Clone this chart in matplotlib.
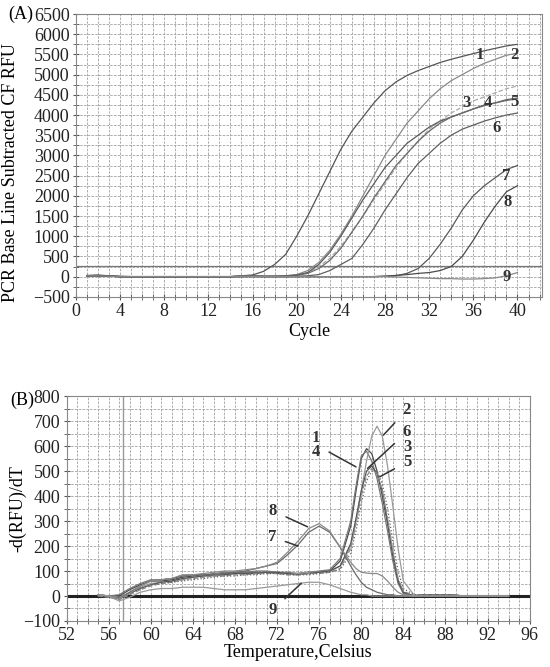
import numpy as np
import matplotlib
matplotlib.use("Agg")
import matplotlib.pyplot as plt
from matplotlib.ticker import MultipleLocator

plt.rcParams['font.family'] = ['Liberation Serif', 'DejaVu Serif']

# ---------------- (A) amplification curves ----------------
cycles = list(range(1, 41))
amp = {
    '1': [30, 40, 20, 10, 0, 0, 0, 0, 0, 0, 0, 0, 0, 0, 20, 40, 130, 300, 550, 1000,
          1500, 2050, 2600, 3150, 3600, 3950, 4300, 4600, 4820, 4980, 5100, 5200, 5300, 5380, 5450,
          5520, 5590, 5650, 5710, 5750],
    '2': [20, 30, 10, 0, 0, 0, 0, 0, 0, 0, 0, 0, 0, 0, 10, 20, 10, 10, 20, 50,
          150, 350, 650, 1050, 1500, 2000, 2500, 3000, 3400, 3800, 4100, 4400, 4650, 4850, 5000,
          5150, 5280, 5380, 5480, 5530],
    '3': [20, 20, 10, 0, 0, 0, 0, 0, 0, 0, 0, 0, 0, 0, 10, 10, 10, 10, 10, 30,
          100, 250, 450, 750, 1100, 1500, 1900, 2300, 2700, 3050, 3350, 3650, 3850, 4050, 4200,
          4350, 4450, 4550, 4650, 4720],
    '4': [20, 30, 10, 0, 0, 0, 0, 0, 0, 0, 0, 0, 0, 0, 10, 10, 10, 10, 20, 40,
          100, 300, 600, 1000, 1450, 1900, 2300, 2700, 3000, 3300, 3500, 3700, 3850, 3950, 4050,
          4150, 4250, 4300, 4380, 4420],
    '5': [20, 20, 10, 0, 0, 0, 0, 0, 0, 0, 0, 0, 0, 0, 10, 10, 10, 10, 10, 30,
          80, 200, 400, 700, 1100, 1500, 1950, 2350, 2750, 3050, 3350, 3600, 3800, 3950, 4050,
          4150, 4230, 4300, 4360, 4400],
    '6': [20, 20, 10, 0, 0, 0, 0, 0, 0, 0, 0, 0, 0, 0, 0, 10, 0, 0, 0, 10,
          20, 50, 150, 300, 450, 800, 1200, 1650, 2050, 2450, 2800, 3050, 3300, 3500, 3650,
          3750, 3850, 3930, 4000, 4050],
    '7': [20, 20, 10, 0, 0, 0, 0, 0, 0, 0, 0, 0, 0, 0, 0, 0, 0, 0, 0, 0,
          0, 0, 0, 0, 0, 0, 0, 10, 20, 80, 200, 450, 800, 1200, 1650,
          2000, 2250, 2450, 2650, 2750],
    '8': [20, 20, 10, 0, 0, 0, 0, 0, 0, 0, 0, 0, 0, 0, 0, 0, 0, 0, 0, 0,
          0, 0, 0, 0, 0, 0, 0, 10, 30, 50, 80, 100, 150, 250, 500,
          900, 1350, 1750, 2100, 2250],
    '9': [20, 20, 10, 0, 0, 0, 0, 0, 0, 0, 0, 0, 0, 0, 0, 0, 0, 0, 0, 0,
          0, 0, 0, 0, 0, 0, 0, 0, -10, -20, -30, -40, -50, -50, -60,
          -60, -50, -30, 20, 100],
}
amp_labels = {'1': (36.6, 5480), '2': (39.7, 5480), '3': (35.4, 4290), '4': (37.3, 4300),
              '5': (39.7, 4330), '6': (38.1, 3670), '7': (39.0, 2500), '8': (39.1, 1850),
              '9': (39.0, -10)}
threshold = 270

# ---------------- (B) melt curves ----------------
temps = [55, 56, 57, 58, 59, 60, 61, 62, 63, 64, 65, 66, 67, 68, 69, 70, 71, 72, 73, 74,
         75, 76, 77, 78, 79, 79.5, 80, 80.5, 81, 81.5, 82, 82.5, 83, 83.5, 84, 85, 86, 88,
         90, 92, 94]
melt = {
    '1': [0, -5, 0, 25, 45, 60, 60, 65, 75, 80, 85, 85, 90, 90, 95, 95, 95, 90, 90, 90,
          95, 95, 100, 140, 280, 420, 550, 590, 570, 500, 400, 290, 160, 60, 15, 0, 5, 5, 0, 0, 0],
    '4': [5, 0, 5, 30, 50, 65, 65, 70, 80, 85, 85, 90, 95, 95, 95, 100, 100, 95, 95, 90,
          95, 100, 105, 150, 300, 440, 560, 580, 540, 470, 370, 260, 140, 50, 10, 0, 5, 5, 0, 0, 0],
    '2': [5, 0, -5, 15, 35, 50, 55, 60, 65, 75, 80, 80, 85, 90, 90, 90, 95, 95, 90, 90,
          95, 95, 100, 120, 200, 300, 420, 540, 640, 680, 640, 520, 360, 190, 60, 5, 5, 5, 0, 0, 0],
    '6': [0, -5, -10, 10, 30, 45, 55, 60, 70, 75, 80, 85, 85, 90, 90, 90, 95, 95, 90, 85,
          90, 95, 100, 120, 210, 310, 420, 500, 520, 490, 420, 300, 170, 60, 15, 0, 5, 5, 0, 0, 0],
    '3': [0, -5, -15, 5, 25, 40, 50, 55, 65, 70, 75, 80, 80, 85, 85, 90, 90, 90, 85, 85,
          90, 90, 95, 110, 190, 290, 400, 480, 510, 490, 420, 310, 180, 70, 20, 0, 5, 5, 0, 0, 0],
    '5': [5, 0, -10, 10, 30, 45, 50, 55, 60, 65, 70, 75, 80, 80, 85, 85, 90, 90, 85, 85,
          85, 90, 95, 105, 170, 260, 370, 460, 500, 500, 450, 350, 220, 100, 30, 5, 5, 5, 0, 0, 0],
    '7': [5, 0, -10, 15, 40, 60, 65, 70, 80, 85, 85, 85, 90, 95, 100, 110, 120, 130, 165, 205,
          255, 280, 255, 195, 120, 85, 55, 35, 25, 15, 10, 5, 5, 0, 0, 0, 0, 0, 0, 0, 0],
    '8': [5, 0, -10, 10, 40, 60, 65, 70, 85, 85, 90, 95, 100, 100, 105, 110, 120, 135, 175, 220,
          270, 290, 260, 195, 135, 110, 95, 92, 90, 90, 80, 60, 35, 15, 5, 0, 0, 0, 0, 0, 0],
    '9': [5, 0, -20, -5, 15, 25, 30, 30, 35, 35, 35, 30, 25, 25, 25, 30, 35, 40, 45, 50,
          55, 55, 45, 30, 15, 10, 5, 5, 0, 0, 0, 0, 0, 0, 0, 0, 0, 0, 0, 0, 0],
}
melt_styles = {
    '1': ('#4a4a4a', '-'), '4': ('#777777', '-'), '2': ('#9a9a9a', '-'),
    '6': ('#555555', '-'), '3': ('#888888', '--'), '5': ('#666666', ':'),
    '7': ('#6a6a6a', '-'), '8': ('#8a8a8a', '-'), '9': ('#999999', '-'),
}
amp_styles = {
    '1': ('#555555', '-'), '2': ('#8a8a8a', '-'), '3': ('#aaaaaa', '--'),
    '4': ('#5a5a5a', '-'), '5': ('#6a6a6a', '-'), '6': ('#606060', '-'),
    '7': ('#5a5a5a', '-'), '8': ('#4a4a4a', '-'), '9': ('#888888', '-'),
}


def style_axes(ax, xmaj, xmin, ymaj, ymin):
    ax.xaxis.set_major_locator(MultipleLocator(xmaj))
    ax.xaxis.set_minor_locator(MultipleLocator(xmin))
    ax.yaxis.set_major_locator(MultipleLocator(ymaj))
    ax.yaxis.set_minor_locator(MultipleLocator(ymin))
    ax.grid(which='both', color='#a0a0a0', linestyle=(0, (3, 1.5)), linewidth=0.6)
    ax.tick_params(which='both', direction='inout', color='#555555')
    ax.tick_params(which='major', length=5, labelsize=13, pad=2, labelcolor='#222222')
    ax.tick_params(which='minor', length=4)
    for s in ax.spines.values():
        s.set_color('#888888')
        s.set_linewidth(0.8)
    ax.set_axisbelow(True)


fig = plt.figure(figsize=(5.5, 6.67), dpi=100)

# ---- panel A ----
ax1 = fig.add_axes([0.138, 0.555, 0.847, 0.424])
style_axes(ax1, 4, 1, 500, 250)
ax1.axhline(threshold, color='#777777', linewidth=0.9)
for k, vals in amp.items():
    c, ls = amp_styles[k]
    ax1.plot(cycles, vals, color=c, linestyle=ls, linewidth=0.9)
for k, (x, y) in amp_labels.items():
    ax1.text(x, y, k, fontsize=12, ha='center', va='center', color='#333333', fontweight='bold')
ax1.set_xlim(0, 42.2)
ax1.set_ylim(-500, 6500)
ax1.set_xlabel('Cycle', fontsize=13, labelpad=2)
ax1.set_ylabel('PCR Base Line Subtracted CF RFU', fontsize=13)
ax1.yaxis.set_label_coords(-0.122, 0.44)
ax1.text(-0.145, 1.0, '(A)', transform=ax1.transAxes, fontsize=13, ha='left', va='center')

# ---- panel B ----
ax2 = fig.add_axes([0.121, 0.069, 0.842, 0.337])
style_axes(ax2, 4, 1, 100, 50)
ax2.axvline(57.4, color='#999999', linewidth=1.0)
ax2.axhline(0, color='#222222', linewidth=2.2)
for k, vals in melt.items():
    c, ls = melt_styles[k]
    ax2.plot(temps, vals, color=c, linestyle=ls, linewidth=0.9)

arrows = [
    ('8', (71.6, 341), (74.9, 277)),
    ('7', (71.5, 237), (74.0, 200)),
    ('9', (71.6, -56), (74.3, 51)),
    ('1\n4', (75.7, 605), (79.5, 517)),
    ('2', (84.3, 744), (82.1, 644)),
    ('6', (84.3, 655), (80.6, 511)),
    ('5', (84.4, 538), (81.75, 477)),
]
for lab, (tx, ty), (ax_, ay) in arrows:
    ax2.annotate(lab, xy=(ax_, ay), xytext=(tx, ty), fontsize=12, ha='center', va='center',
                 color='#333333', fontweight='bold', linespacing=0.8,
                 arrowprops=dict(arrowstyle='-', color='#333333', linewidth=1.1,
                                 shrinkA=5, shrinkB=0))
ax2.text(84.4, 597, '3', fontsize=12, ha='center', va='center', color='#333333',
         fontweight='bold')
ax2.set_xlim(52, 96)
ax2.set_ylim(-100, 800)
ax2.set_xlabel('Temperature,Celsius', fontsize=13, labelpad=0)
ax2.set_ylabel('-d(RFU)/dT', fontsize=13)
ax2.yaxis.set_label_coords(-0.086, 0.5)
ax2.text(-0.122, 0.98, '(B)', transform=ax2.transAxes, fontsize=13, ha='left', va='center')

fig.savefig('out.png', dpi=100)
